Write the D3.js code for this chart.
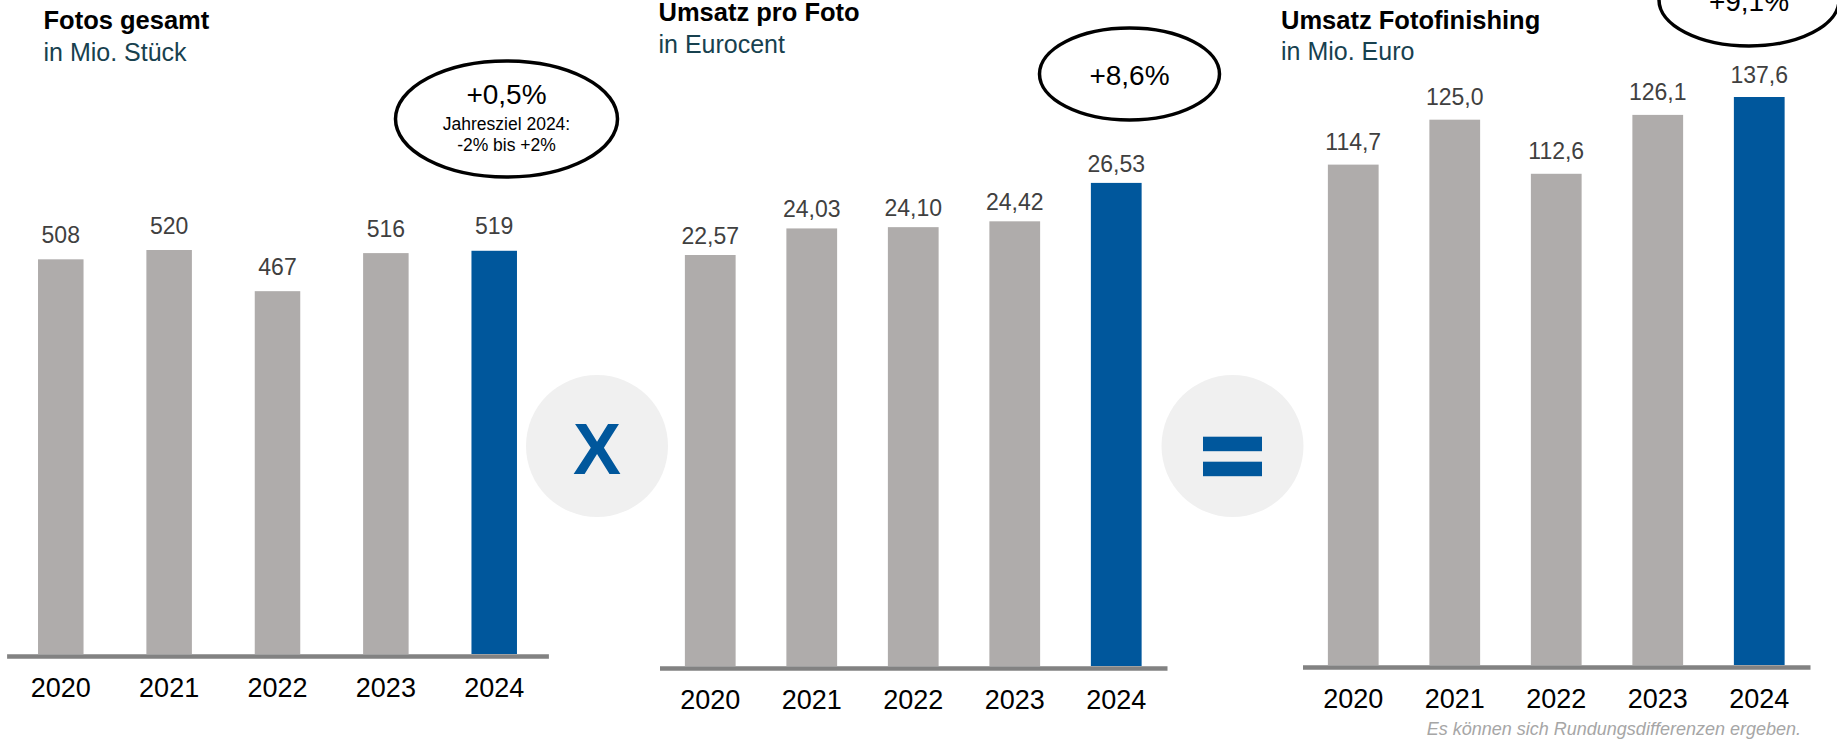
<!DOCTYPE html>
<html>
<head>
<meta charset="utf-8">
<script src="https://cdn.jsdelivr.net/npm/d3@7"></script>
<style>
    body { margin: 0; background: #fff; }
    svg text { font-family: "Liberation Sans", Arial, sans-serif; }
</style>
</head>
<body>
<svg id="chart" width="1837" height="739"></svg>
<script>
'use strict';

// data
const years = ["2020", "2021", "2022", "2023", "2024"]
const fotosGesamt = [508, 520, 467, 516, 519]
const umsatzProFoto = [22.57, 24.03, 24.10, 24.42, 26.53]
const umsatzFotofinishing = [114.7, 125.0, 112.6, 126.1, 137.6]

const panelTitles = ["Fotos gesamt", "Umsatz pro Foto", "Umsatz Fotofinishing"]
const panelUnits = ["in Mio. Stück", "in Eurocent", "in Mio. Euro"]
const panelChanges = ["+0,5%", "+8,6%", "+9,1%"]
const zielText = ["Jahresziel 2024:", "-2% bis +2%"]
const footnote = "Es können sich Rundungsdifferenzen ergeben."

let fotoCharts = (function() {
    let grey = "#afacab"
    let blue = "#00579c"
    let de = d3.formatLocale({decimal: ",", thousands: ".", grouping: [3], currency: ["", "€"]})

    function renderPanel(svg, p) {
        let g = svg.append("g")
        let data = years.map((y, i) => ({year: y, value: p.values[i]}))

        let x = d3.scaleBand()
            .domain(years)
            .range(p.range)
            .paddingInner(p.pad)
            .paddingOuter(p.pad / 2)

        let y = d3.scaleLinear()
            .domain([0, p.yMax])
            .range([p.baseline, p.top])
            .clamp(true)

        g.append("g")
            .selectAll("rect")
            .data(data)
            .enter().append("rect")
            .attr("x", d => x(d.year))
            .attr("width", x.bandwidth())
            .attr("y", d => y(d.value))
            .attr("height", d => p.baseline - y(d.value))
            .attr("fill", (d, i) => i === years.length - 1 ? blue : grey)

        g.append("g")
            .selectAll("text")
            .data(data)
            .enter().append("text")
            .attr("x", d => x(d.year) + x.bandwidth() / 2)
            .attr("y", d => y(d.value) - p.labelGap)
            .attr("text-anchor", "middle")
            .attr("font-size", 23)
            .attr("fill", "#404040")
            .text(d => de.format(p.fmt)(d.value))

        let axis = g.append("g")
            .attr("transform", "translate(0," + (p.baseline + 2) + ")")
            .call(d3.axisBottom(x).tickSize(0).tickSizeOuter(0).tickPadding(22))
        axis.select(".domain")
            .attr("stroke", "#828282")
            .attr("stroke-width", 4.5)
        axis.selectAll(".tick text")
            .attr("font-size", 27)
            .attr("font-family", "'Liberation Sans', Arial, sans-serif")
            .attr("fill", "#000")

        g.append("text")
            .attr("x", p.titleX)
            .attr("y", p.titleY)
            .attr("font-size", 25.5)
            .attr("font-weight", "bold")
            .attr("fill", "#000")
            .text(p.title)
        g.append("text")
            .attr("x", p.titleX)
            .attr("y", p.titleY + 31.5)
            .attr("font-size", 25)
            .attr("fill", "#17414f")
            .text(p.unit)

        g.append("ellipse")
            .attr("cx", p.bubble[0])
            .attr("cy", p.bubble[1])
            .attr("rx", p.bubble[2])
            .attr("ry", p.bubble[3])
            .attr("fill", "#fff")
            .attr("stroke", "#000")
            .attr("stroke-width", 3.5)
        g.append("text")
            .attr("x", p.bubble[0])
            .attr("y", p.bubble[1] + p.changeDy)
            .attr("text-anchor", "middle")
            .attr("font-size", 28)
            .attr("fill", "#000")
            .text(p.change)
        return g
    }

    function render() {
        let svg = d3.select("#chart")

        let panels = [
            {values: fotosGesamt, fmt: ".0f", range: [6.6, 548.4], pad: 0.58, baseline: 654, top: 250, yMax: 520,
             labelGap: 16.5, titleX: 43.5, titleY: 29, bubble: [506.5, 119, 111, 58], changeDy: -15},
            {values: umsatzProFoto, fmt: ".2f", range: [659.5, 1167], pad: 0.5, baseline: 666, top: 182.9, yMax: 26.53,
             labelGap: 11, titleX: 658.5, titleY: 21, bubble: [1129.5, 74, 90, 46], changeDy: 11},
            {values: umsatzFotofinishing, fmt: ".1f", range: [1302.5, 1810], pad: 0.5, baseline: 665, top: 97, yMax: 130.2,
             labelGap: 14.5, titleX: 1281, titleY: 28.5, bubble: [1749, 0, 90, 46], changeDy: 11}
        ]
        panels.forEach((p, i) => {
            p.title = panelTitles[i]
            p.unit = panelUnits[i]
            p.change = panelChanges[i]
            let g = renderPanel(svg, p)
            if (i === 0) {
                g.append("text")
                    .attr("x", p.bubble[0])
                    .attr("y", p.bubble[1])
                    .attr("text-anchor", "middle")
                    .attr("font-size", 17.5)
                    .attr("fill", "#000")
                    .selectAll("tspan")
                    .data(zielText)
                    .enter().append("tspan")
                    .attr("x", p.bubble[0])
                    .attr("dy", (d, j) => j === 0 ? 10.5 : 21.5)
                    .text(d => d)
            }
        })

        // operator circles between the panels
        svg.append("circle").attr("cx", 597).attr("cy", 446).attr("r", 71).attr("fill", "#f0f0f0")
        svg.append("text")
            .attr("x", 597)
            .attr("y", 473.5)
            .attr("text-anchor", "middle")
            .attr("font-size", 72)
            .attr("font-weight", "bold")
            .attr("fill", blue)
            .text("X")

        svg.append("circle").attr("cx", 1232.5).attr("cy", 446).attr("r", 71).attr("fill", "#f0f0f0")
        svg.append("g")
            .selectAll("rect")
            .data([436.7, 461.7])
            .enter().append("rect")
            .attr("x", 1203)
            .attr("y", d => d)
            .attr("width", 59)
            .attr("height", 14.5)
            .attr("fill", blue)

        svg.append("text")
            .attr("x", 1801)
            .attr("y", 735)
            .attr("text-anchor", "end")
            .attr("font-size", 18)
            .attr("font-style", "italic")
            .attr("fill", "#a6a6a6")
            .text(footnote)
    }

    return {
        render
    }
}())

fotoCharts.render()
</script>
</body>
</html>
